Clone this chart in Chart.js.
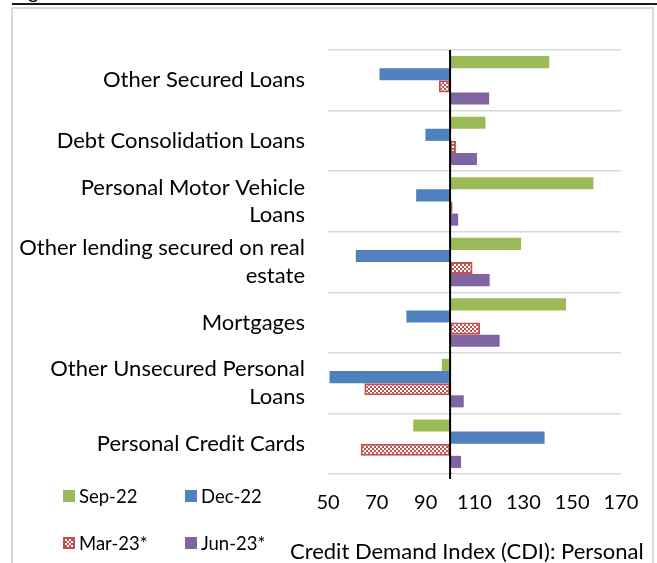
<!DOCTYPE html>
<html><head><meta charset="utf-8">
<script src="https://cdn.jsdelivr.net/npm/chart.js@4"></script>
<style>
html,body{margin:0;padding:0;background:#fff;width:657px;height:563px;overflow:hidden;font-family:Lato,"Open Sans",sans-serif}
#frame{position:absolute;left:11px;top:7px;width:643px;height:570px;border:2px solid #d9d9d9;box-sizing:border-box}
#topline{position:absolute;left:12px;top:3px;right:0;height:2px;background:#1a1a1a}
#fig{position:absolute;left:12px;top:-19px;font-size:20px;color:#000;line-height:20px}
#c{position:absolute;left:0;top:0}
#legend{position:absolute;left:63px;top:472px;display:grid;grid-template-columns:122px 122px;grid-auto-rows:47.5px;font-size:18.5px;color:#000}
.li{display:flex;align-items:center;white-space:nowrap}
.sw{width:12px;height:12px;margin-right:4px;box-sizing:border-box}
#xtitle{position:absolute;left:290px;top:539px;font-size:22px;line-height:24px;color:#000;white-space:nowrap}
</style></head>
<body>
<div id="fig">Figure</div>
<div id="topline"></div>
<div id="frame"></div>
<canvas id="c" width="657" height="563"></canvas>
<div id="legend"></div>
<div id="xtitle"></div>
<script>
const categories = [
  ["Other Secured Loans"],
  ["Debt Consolidation Loans"],
  ["Personal Motor Vehicle","Loans"],
  ["Other lending secured on real","estate"],
  ["Mortgages"],
  ["Other Unsecured Personal","Loans"],
  ["Personal Credit Cards"]
];
const seriesNames = ["Sep-22","Dec-22","Mar-23*","Jun-23*"];
const sep22 = [140.6,114.5,158.7,129.1,147.5,96.6,84.9];
const dec22 = [71.1,89.9,86.1,61.4,82.1,50.6,138.7];
const mar23 = [95.4,102.4,101.0,109.2,112.3,64.9,63.4];
const jun23 = [116.0,111.0,103.3,116.2,120.3,105.6,104.5];
const baseValue = 100;
const xTicks = [50,70,90,110,130,150,170];
const xTitle = "Credit Demand Index (CDI): Personal";

const FONT = 'Lato';
const green = '#9BBB59', blue = '#4F81BD', red = '#C0504D', purple = '#8064A2';

function makePattern(){
  const p = document.createElement('canvas');
  p.width = 4; p.height = 4;
  const g = p.getContext('2d');
  g.fillStyle = '#fff'; g.fillRect(0,0,4,4);
  g.fillStyle = red; g.fillRect(0,0,2,2); g.fillRect(2,2,2,2);
  return g.createPattern(p,'repeat');
}
const ctx = document.getElementById('c').getContext('2d');
const pattern = makePattern();

const floating = arr => arr.map(v => [baseValue, v]);
const styles = [
  {backgroundColor: green, borderColor: green, borderWidth: 0},
  {backgroundColor: blue, borderColor: blue, borderWidth: 0},
  {backgroundColor: pattern, borderColor: red, borderWidth: 2},
  {backgroundColor: purple, borderColor: purple, borderWidth: 0}
];
const values = [sep22, dec22, mar23, jun23];
const datasets = seriesNames.map((n,i) => Object.assign({
  label: n, data: floating(values[i]), borderSkipped: false,
  categoryPercentage: 0.8, barPercentage: 1.0
}, styles[i]));

const baseline = {
  id: 'baseline',
  afterDatasetsDraw(chart){
    const x = chart.scales.x.getPixelForValue(baseValue);
    const a = chart.chartArea;
    const c = chart.ctx;
    c.save();
    c.strokeStyle = '#000'; c.lineWidth = 2;
    c.beginPath(); c.moveTo(x, a.top); c.lineTo(x, a.bottom + 5); c.stroke();
    c.restore();
  }
};

new Chart(ctx, {
  type: 'bar',
  data: {labels: categories, datasets},
  options: {
    indexAxis: 'y',
    responsive: false,
    animation: false,
    devicePixelRatio: 1,
    layout: {padding: {left: 0, top: 50, right: 36, bottom: 0}},
    plugins: {legend: {display: false}, tooltip: {enabled: false}},
    scales: {
      x: {
        min: 50, max: 170,
        afterBuildTicks: s => { s.ticks = xTicks.map(v => ({value: v})); },
        afterFit: s => { s.height = 89; },
        grid: {display: false, drawTicks: false},
        border: {display: false},
        ticks: {font: {family: FONT, size: 20}, color: '#000', padding: 17, maxRotation: 0, autoSkip: false},
        title: {display: false, text: xTitle}
      },
      y: {
        afterFit: s => { s.width = 328; },
        grid: {color: '#d9d9d9', lineWidth: 1.5, drawTicks: false, offset: true},
        border: {display: false},
        ticks: {font: {family: FONT, size: 22, lineHeight: 1.27}, color: '#000', padding: 23, autoSkip: false}
      }
    }
  },
  plugins: [baseline]
});

document.getElementById('xtitle').textContent = xTitle;

const colorsForLegend = [green, blue, null, purple];
const leg = document.getElementById('legend');
seriesNames.forEach((n,i) => {
  const d = document.createElement('div'); d.className = 'li';
  const sw = document.createElement('span'); sw.className = 'sw';
  if (colorsForLegend[i]) sw.style.background = colorsForLegend[i];
  else { sw.style.border = '2px solid ' + red;
    sw.style.backgroundImage = 'repeating-conic-gradient(' + red + ' 0 25%, #fff 0 50%)';
    sw.style.backgroundSize = '4px 4px'; }
  const t = document.createElement('span'); t.textContent = n;
  d.appendChild(sw); d.appendChild(t); leg.appendChild(d);
});
</script>
</body></html>
